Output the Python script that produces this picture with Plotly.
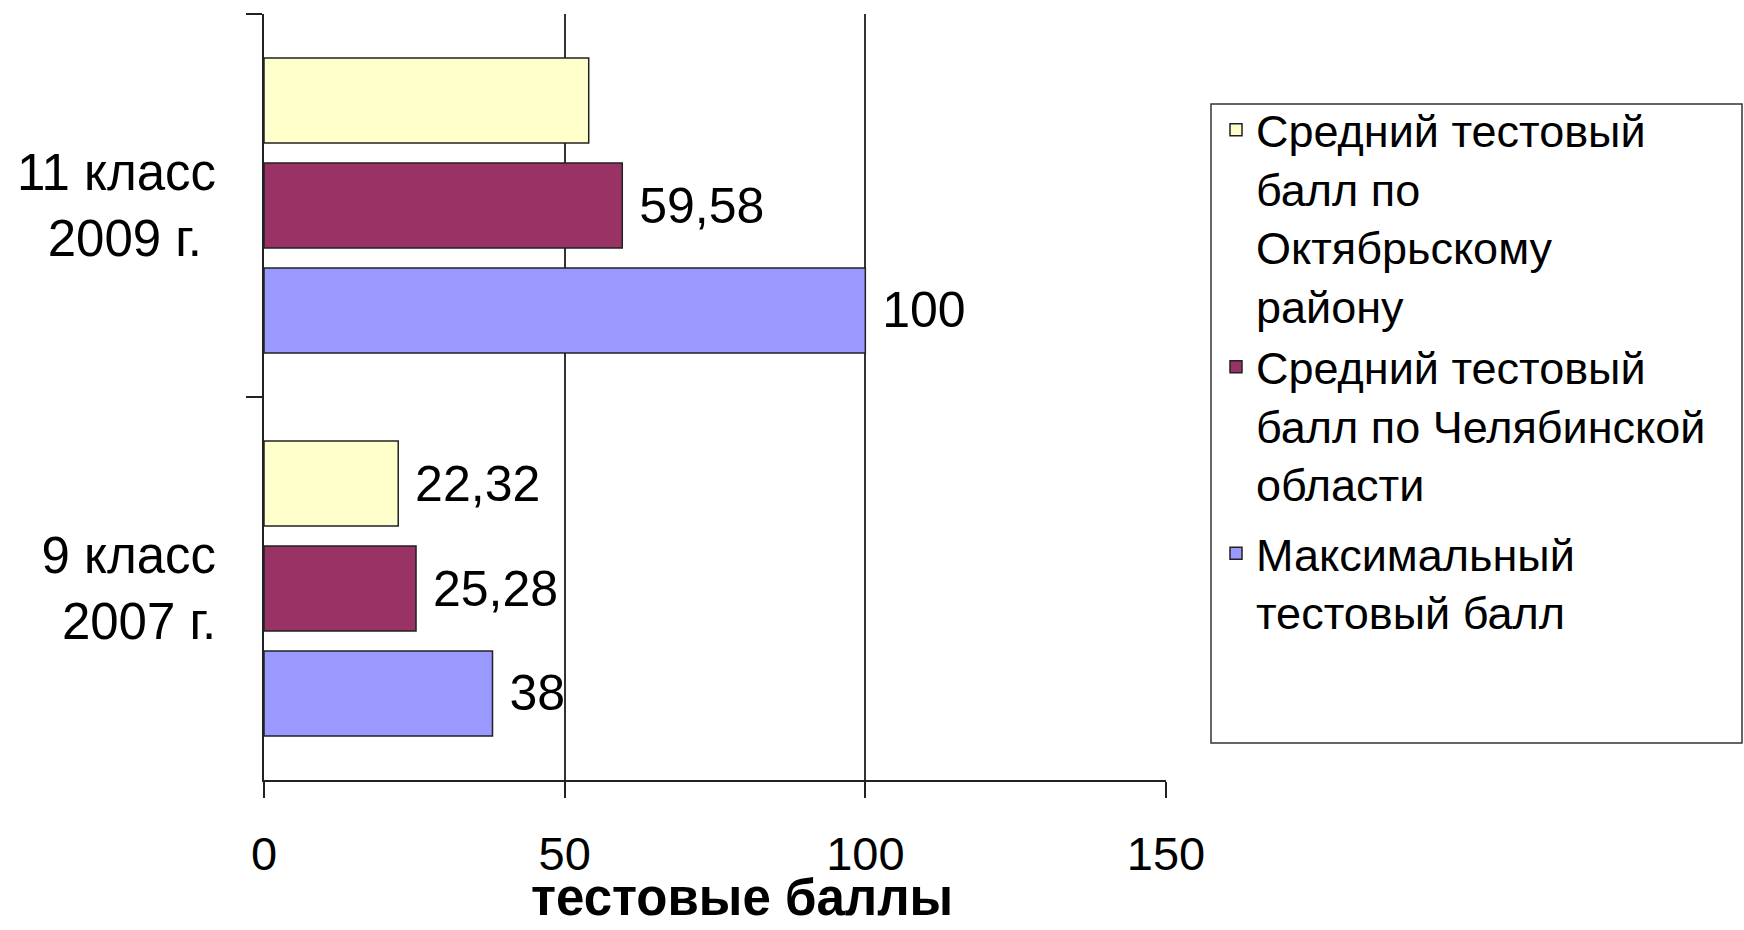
import plotly.graph_objects as go

# ---- data ----
categories = ["11 класс<br>2009 г.\u00a0", "9 класс<br>2007 г."]
series_names = [
    "Средний тестовый<br>балл по<br>Октябрьскому<br>району",
    "Средний тестовый<br>балл по Челябинской<br>области",
    "Максимальный<br>тестовый балл",
]
octyabrsky = [54.0, 22.32]
chelyabinsk = [59.58, 25.28]
maximum = [100, 38]
octyabrsky_labels = ["", " 22,32"]
chelyabinsk_labels = [" 59,58", " 25,28"]
maximum_labels = [" 100", " 38"]
x_ticks = [0, 50, 100, 150]
x_title = "тестовые баллы"

colors = ["#FFFFCC", "#993366", "#9999FF"]
groups = ["g1", "g1", "g2"]
FONT = "Liberation Sans, Arial, sans-serif"

fig = go.Figure()
for name, vals, labels, col, grp in zip(
    series_names,
    [octyabrsky, chelyabinsk, maximum],
    [octyabrsky_labels, chelyabinsk_labels, maximum_labels],
    colors, groups,
):
    fig.add_trace(go.Bar(
        y=categories, x=vals, orientation="h", name=name,
        marker=dict(color=col, line=dict(color="#222222", width=1.5)),
        text=labels, textposition="outside", constraintext="none",
        textfont=dict(size=50, color="black", family=FONT),
        cliponaxis=False, legendgroup=grp,
    ))

# plot area geometry (px)
L, R, T, B = 264, 1166, 14, 780
W, H = 1744, 930
pw, ph = R - L, B - T

def px_x(x):
    return (x - L) / pw

def px_y(y):
    return (B - y) / ph

fig.update_layout(
    width=W, height=H,
    margin=dict(l=L, r=W - R, t=T, b=H - B, autoexpand=False),
    paper_bgcolor="white", plot_bgcolor="white",
    font=dict(family=FONT, color="black"),
    barmode="group", bargap=0.178, bargroupgap=0.19,
    showlegend=True,
    legend=dict(
        x=px_x(1216), xanchor="left", y=px_y(94), yanchor="top",
        font=dict(size=45, family=FONT, color="black"),
        valign="top", traceorder="grouped", tracegroupgap=8,
        bgcolor="rgba(0,0,0,0)", borderwidth=0,
    ),
    shapes=[dict(
        type="rect", xref="paper", yref="paper",
        x0=px_x(1211), x1=px_x(1742), y0=px_y(743), y1=px_y(104),
        line=dict(color="#333333", width=1.5), fillcolor="rgba(0,0,0,0)",
        layer="below",
    )],
    annotations=[dict(
        text="<b>" + x_title + "</b>", xref="paper", yref="paper",
        x=px_x(742), y=px_y(897), xanchor="center", yanchor="middle",
        showarrow=False, font=dict(size=51, family=FONT, color="black"),
    )],
)

fig.update_xaxes(
    range=[0, 150], tickvals=x_ticks, ticks="outside", ticklen=16,
    tickcolor="#222222", tickwidth=1.5,
    showline=True, linecolor="#222222", linewidth=1.5,
    showgrid=True, gridcolor="#333333", gridwidth=1.5, zeroline=False,
    tickfont=dict(size=47, family=FONT, color="black"),
    ticklabelstandoff=16,
    automargin=False,
)
fig.update_yaxes(
    type="category", categoryorder="array", categoryarray=categories,
    autorange="reversed",
    tickson="boundaries", ticks="outside", ticklen=16,
    tickcolor="#222222", tickwidth=1.5,
    showline=True, linecolor="#222222", linewidth=1.5,
    showgrid=False, zeroline=False,
    tickfont=dict(size=51, family=FONT, color="black"),
    ticklabelstandoff=36,
    automargin=False,
)

fig.write_html("out.html", config={"displayModeBar": False},
               post_script="document.body.style.margin='0';document.body.style.overflow='hidden';")
